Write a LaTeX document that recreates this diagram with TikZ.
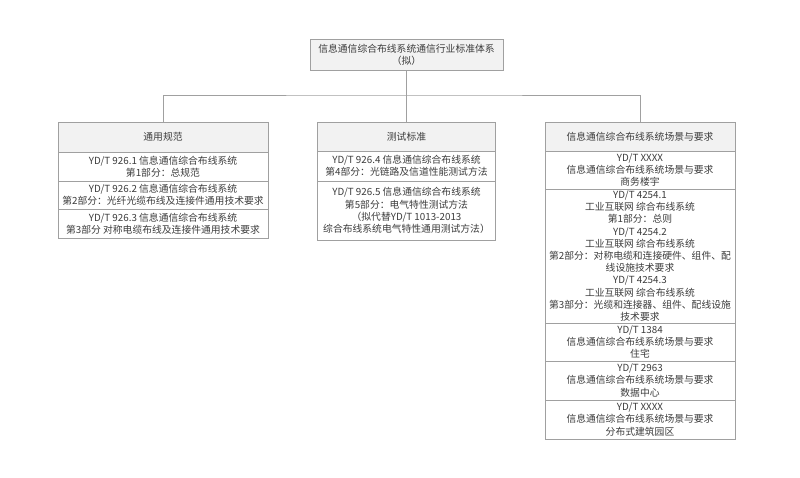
\documentclass[tikz,border=0pt]{standalone}
\usepackage{fontspec}
\setmainfont{Noto Sans CJK SC}
\usetikzlibrary{positioning}
\definecolor{lg}{HTML}{A0A0A0}
\definecolor{hd}{HTML}{F2F2F2}
\definecolor{tx}{HTML}{3C3C3C}
\tikzset{%
    lin/.style={draw=lg, line width=0.7pt},
    cab/.style={lin, fill=hd, text=tx, align=center, inner sep=1pt, outer sep=0pt},
    cel/.style={lin, fill=white, text=tx, align=center, inner sep=1pt, outer sep=0pt}
}

\begin{document}
\begin{tikzpicture}[x=1pt,y=-1pt,font=\fontsize{9.8}{12.2}\selectfont]
    \useasboundingbox (0,0) rectangle (800,477);
    \node[cab,minimum width=193pt,minimum height=31pt] (tit) at (406.5,54.5) {信息通信综合布线系统通信行业标准体系\\（拟）};
    % columna izquierda
    \node[cab,minimum width=210pt,minimum height=30pt] (cab1) at (163,137) {通用规范};
    \node[cel,minimum width=210pt,minimum height=29pt,below=0pt of cab1] (g1) {YD/T 926.1 信息通信综合布线系统\\第1部分：总规范};
    \node[cel,minimum width=210pt,minimum height=28pt,below=0pt of g1] (g2) {YD/T 926.2 信息通信综合布线系统\\第2部分：光纤光缆布线及连接件通用技术要求};
    \node[cel,minimum width=210pt,minimum height=29pt,below=0pt of g2] (g3) {YD/T 926.3 信息通信综合布线系统\\第3部分 对称电缆布线及连接件通用技术要求};
    % columna central
    \node[cab,minimum width=178pt,minimum height=29pt] (cab2) at (406.5,136.5) {测试标准};
    \node[cel,minimum width=178pt,minimum height=30pt,below=0pt of cab2] (c1) {YD/T 926.4 信息通信综合布线系统\\第4部分：光链路及信道性能测试方法};
    \node[cel,minimum width=178pt,minimum height=59pt,below=0pt of c1] (c2) {YD/T 926.5 信息通信综合布线系统\\第5部分：电气特性测试方法\\（拟代替YD/T 1013-2013\\综合布线系统电气特性通用测试方法）};
    % columna derecha
    \node[cab,minimum width=190pt,minimum height=29pt] (cab3) at (640,136.5) {信息通信综合布线系统场景与要求};
    \node[cel,minimum width=190pt,minimum height=38pt,below=0pt of cab3] (r1) {YD/T XXXX\\信息通信综合布线系统场景与要求\\商务楼宇};
    \node[cel,minimum width=190pt,minimum height=134pt,below=0pt of r1] (r2) {YD/T 4254.1\\工业互联网 综合布线系统\\第1部分：总则\\YD/T 4254.2\\工业互联网 综合布线系统\\第2部分：对称电缆和连接硬件、组件、配\\线设施技术要求\\YD/T 4254.3\\工业互联网 综合布线系统\\第3部分：光缆和连接器、组件、配线设施\\技术要求};
    \node[cel,minimum width=190pt,minimum height=38pt,below=0pt of r2] (r3) {YD/T 1384\\信息通信综合布线系统场景与要求\\住宅};
    \node[cel,minimum width=190pt,minimum height=39pt,below=0pt of r3] (r4) {YD/T 2963\\信息通信综合布线系统场景与要求\\数据中心};
    \node[cel,minimum width=190pt,minimum height=39pt,below=0pt of r4] (r5) {YD/T XXXX\\信息通信综合布线系统场景与要求\\分布式建筑园区};
    % lineas
    \coordinate (bus) at (406.5,95);
    \draw[lin] (tit.south) -- (cab2.north);
    \draw[lin] (cab1.north) |- (bus) -| (cab3.north);
\end{tikzpicture}
\end{document}
